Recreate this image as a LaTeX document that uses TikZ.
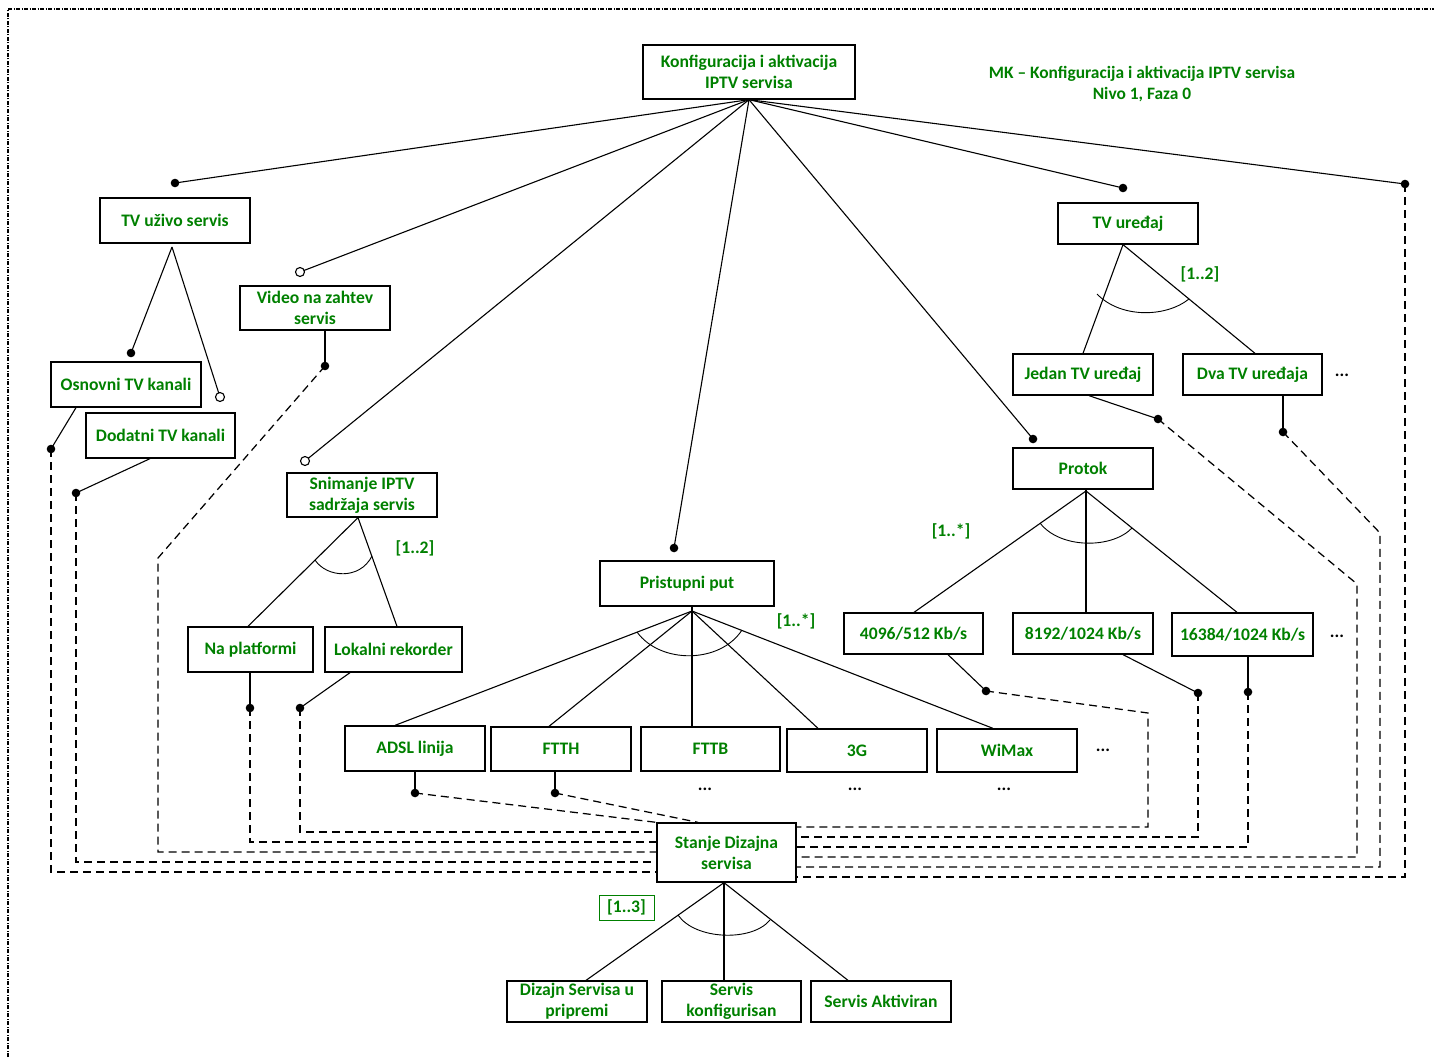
\documentclass[tikz,border=0pt]{standalone}
\usepackage{fontspec}
\setmainfont{Carlito}
\definecolor{tgreen}{RGB}{0,128,0}
\newcommand\mylab{\fontsize{17.6}{21}\selectfont\bfseries}
\begin{document}
\begin{tikzpicture}[x=1pt,y=-1pt,
  box/.style={draw, line width=1.3pt, inner sep=0pt, align=center, font=\mylab, text=tgreen},
  ln/.style={line width=1.1pt},
  dln/.style={line width=1.25pt, dash pattern=on 8pt off 5pt},
  card/.style={font=\mylab, text=tgreen, inner sep=1pt},
  more/.style={font=\mylab, text=black, inner sep=0pt},
  fdot/.style={fill=black},
  odot/.style={draw=black, fill=white, line width=1.1pt}]
\useasboundingbox (0,0) rectangle (1434,1057);
% frame
\draw[line width=1.4pt, dash pattern=on 4pt off 1.5pt on 1pt off 1.5pt] (8,1057) -- (8,9) -- (1434,9);

% boxes
\node[box, minimum width=212pt, minimum height=54pt] (root) at (749,72) {Konfiguracija i aktivacija\\IPTV servisa};
\node[box, minimum width=150pt, minimum height=45pt] (tvlive) at (175,220.5) {TV uživo servis};
\node[box, minimum width=150pt, minimum height=44pt] (vod) at (315,308) {Video na zahtev\\servis};
\node[box, minimum width=150pt, minimum height=45pt] (osn) at (126,384.5) {Osnovni TV kanali};
\node[box, minimum width=149pt, minimum height=45pt] (dod) at (160.5,435.5) {Dodatni TV kanali};
\node[box, minimum width=150pt, minimum height=44pt] (snim) at (362,495) {Snimanje IPTV\\sadržaja servis};
\node[box, minimum width=125pt, minimum height=45pt] (naplat) at (250.5,649.5) {Na platformi};
\node[box, minimum width=137pt, minimum height=45pt] (lokal) at (393.5,649.5) {Lokalni rekorder};
\node[box, minimum width=174pt, minimum height=45pt] (prist) at (687,583.5) {Pristupni put};
\node[box, minimum width=140pt, minimum height=45pt] (adsl) at (415,748.5) {ADSL linija};
\node[box, minimum width=140pt, minimum height=44pt] (ftth) at (561,749) {FTTH};
\node[box, minimum width=139pt, minimum height=44pt] (fttb) at (710.5,749) {FTTB};
\node[box, minimum width=140pt, minimum height=43pt] (g3) at (857,750.5) {3G};
\node[box, minimum width=140pt, minimum height=43pt] (wimax) at (1007,750.5) {WiMax};
\node[box, minimum width=139pt, minimum height=59pt] (stanje) at (726.5,852.5) {Stanje Dizajna\\servisa};
\node[box, minimum width=140pt, minimum height=41pt] (dizajn) at (577,1001.5) {Dizajn Servisa u\\pripremi};
\node[box, minimum width=139pt, minimum height=41pt] (konf) at (731.5,1001.5) {Servis\\konfigurisan};
\node[box, minimum width=140pt, minimum height=41pt] (aktiv) at (881,1001.5) {Servis Aktiviran};
\node[box, minimum width=140pt, minimum height=41pt] (tvdev) at (1128,223.5) {TV uređaj};
\node[box, minimum width=140pt, minimum height=41pt] (jedan) at (1083,374.5) {Jedan TV uređaj};
\node[box, minimum width=139pt, minimum height=41pt] (dva) at (1252.5,374.5) {Dva TV uređaja};
\node[box, minimum width=140pt, minimum height=41pt] (protok) at (1083,468.5) {Protok};
\node[box, minimum width=139pt, minimum height=41pt] (r4096) at (913.5,633.5) {4096/512 Kb/s};
\node[box, minimum width=140pt, minimum height=41pt] (r8192) at (1083,633.5) {8192/1024 Kb/s};
\node[box, minimum width=141pt, minimum height=43pt] (r16384) at (1242.5,634.5) {16384/1024 Kb/s};

% title
\node[font=\fontsize{17.4}{21}\selectfont\bfseries, text=tgreen, align=center] (title) at (1142,84.5) {MK -- Konfiguracija i aktivacija IPTV servisa\\Nivo 1, Faza 0};

% cardinalities
\node[card] (c1) at (415,548) {[1..2]};
\node[card] (c2) at (1200,274) {[1..2]};
\node[card] (c3) at (796,621) {[1..*]};
\node[card] (c4) at (951,531) {[1..*]};
\node[card, draw=tgreen, line width=1pt, minimum width=55pt, minimum height=25pt, inner sep=0pt] (c5) at (626.5,907.5) {[1..3]};

% ellipses
\node[more] (m1) at (1342,375) {...};
\node[more] (m2) at (1337,636) {...};
\node[more] (m3) at (1103,750) {...};
\node[more] (m4) at (705,789) {...};
\node[more] (m5) at (855,789) {...};
\node[more] (m6) at (1004,789) {...};

% coordinates of dots
\coordinate (dTV) at (175,183);
\coordinate (oVod) at (300,272);
\coordinate (oSnim) at (305,461);
\coordinate (dPrist) at (674,548);
\coordinate (dProtok) at (1033,439);
\coordinate (dTVdev) at (1123,188);
\coordinate (dRight) at (1405,184);
\coordinate (dOsnT) at (131,353);
\coordinate (oDod) at (220,397);
\coordinate (dVod) at (325,366);
\coordinate (dOsn) at (51,449);
\coordinate (dDod) at (76,493);
\coordinate (dNa) at (250,708);
\coordinate (dLok) at (300,708);
\coordinate (dAdsl) at (415,793);
\coordinate (dFtth) at (555,793);
\coordinate (d4096) at (986,691);
\coordinate (d8192) at (1198,693);
\coordinate (d16384) at (1248,692);
\coordinate (dJedan) at (1158,419);
\coordinate (dDva) at (1283,432);
% apexes
\coordinate (aTV) at (172,247);
\coordinate (aSnim) at (358,518);
\coordinate (aPrist) at (692,611);
\coordinate (aProtok) at (1086,491);
\coordinate (aTVdev) at (1123,244);
\coordinate (aStanje) at (724,883);

% root fan
\foreach \t in {dTV,oVod,oSnim,dPrist,dProtok,dTVdev,dRight}
  \draw[ln] (root.south) -- (\t);

% tree lines
\draw[ln] (aTV) -- (dOsnT);
\draw[ln] (aTV) -- (oDod);
\draw[ln] (snim.south -| aSnim) -- (248,0 |- naplat.north);
\draw[ln] (snim.south -| aSnim) -- (397,0 |- lokal.north);
\foreach \n/\x in {adsl/395, ftth/549, fttb/692, g3/818, wimax/993}
  \draw[ln] (aPrist) -- (\x,0 |- \n.north);
\draw[ln] (prist.south -| aPrist) -- (aPrist);
\foreach \n/\x in {r4096/914, r8192/1086, r16384/1237}
  \draw[ln] (aProtok) -- (\x,0 |- \n.north);
\draw[ln] (protok.south -| aProtok) -- (aProtok);
\draw[ln] (tvdev.south -| aTVdev) -- (1083,0 |- jedan.north);
\draw[ln] (tvdev.south -| aTVdev) -- (1255,0 |- dva.north);
\foreach \n/\x in {dizajn/586, konf/724, aktiv/848}
  \draw[ln] (stanje.south -| aStanje) -- (\x,0 |- \n.north);

% arcs
\draw[line width=0.9pt] (315,560) .. controls (327,578) and (360,580) .. (372,556);
\draw[line width=0.9pt] (1097,294) .. controls (1120,318) and (1165,318) .. (1189,299);
\draw[line width=0.9pt] (1040,523) .. controls (1060,549) and (1112,549) .. (1132,528);
\draw[line width=0.9pt] (637,632) .. controls (660,664) and (720,664) .. (742,630);
\draw[line width=0.9pt] (678,915) .. controls (695,940) and (752,942) .. (770,920);

% short solid links box -> dot
\draw[ln] (76,0 |- osn.south) -- (dOsn);
\draw[ln] (150,0 |- dod.south) -- (dDod);
\draw[ln] (vod.south -| dVod) -- (dVod);
\draw[ln] (naplat.south -| dNa) -- (dNa);
\draw[ln] (350,0 |- lokal.south) -- (dLok);
\draw[ln] (adsl.south -| dAdsl) -- (dAdsl);
\draw[ln] (ftth.south -| dFtth) -- (dFtth);
\draw[ln] (948,0 |- r4096.south) -- (d4096);
\draw[ln] (1123,0 |- r8192.south) -- (d8192);
\draw[ln] (r16384.south -| d16384) -- (d16384);
\draw[ln] (1089,0 |- jedan.south) -- (dJedan);
\draw[ln] (dva.south -| dDva) -- (dDva);

% dashed links to Stanje
\draw[dln] (dOsn) -- (51,872) -- (stanje.west |- 0,872);
\draw[dln] (dDod) -- (76,862) -- (stanje.west |- 0,862);
\draw[dln] (dVod) -- (158,558) -- (158,852) -- (stanje.west |- 0,852);
\draw[dln] (dNa) -- (250,842) -- (stanje.west |- 0,842);
\draw[dln] (dLok) -- (300,832) -- (stanje.west |- 0,832);
\draw[dln] (dAdsl) -- (stanje.north west);
\draw[dln] (dFtth) -- (698,0 |- stanje.north);
\draw[dln] (d4096) -- (1148,713) -- (1148,827) -- (stanje.east |- 0,827);
\draw[dln] (d8192) -- (1198,837) -- (stanje.east |- 0,837);
\draw[dln] (d16384) -- (1248,847) -- (stanje.east |- 0,847);
\draw[dln] (dJedan) -- (1357,584) -- (1357,857) -- (stanje.east |- 0,857);
\draw[dln] (dDva) -- (1380,533) -- (1380,867) -- (stanje.east |- 0,867);
\draw[dln] (dRight) -- (1405,877) -- (stanje.east |- 0,877);

% dots
\foreach \d in {dTV,dPrist,dProtok,dTVdev,dRight,dOsnT,dVod,dOsn,dDod,dNa,dLok,dAdsl,dFtth,d4096,d8192,d16384,dJedan,dDva}
  \fill[fdot] (\d) circle[radius=4.3pt];
\foreach \d in {oVod,oSnim,oDod}
  \draw[odot] (\d) circle[radius=4.5pt];
\end{tikzpicture}
\end{document}
